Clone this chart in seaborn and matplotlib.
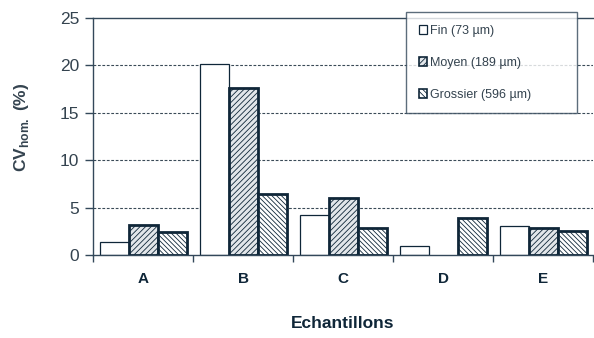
import pandas as pd
import matplotlib.pyplot as plt
import seaborn as sns
from matplotlib.patches import Patch
from matplotlib.ticker import FixedLocator

# data
echantillons = ['A', 'B', 'C', 'D', 'E']
fin = [1.4, 20.2, 4.2, 0.95, 3.1]
moyen = [3.2, 17.6, 6.0, 0.0, 2.8]
grossier = [2.4, 6.4, 2.8, 3.9, 2.5]
series = ['Fin (73 µm)', 'Moyen (189 µm)', 'Grossier (596 µm)']

rows = []
for s, vals in zip(series, [fin, moyen, grossier]):
    for e, v in zip(echantillons, vals):
        rows.append((e, s, v))
df = pd.DataFrame(rows, columns=['ech', 'serie', 'cv'])

sns.set_theme(style="white")
plt.rcParams['font.family'] = ['Liberation Sans', 'DejaVu Sans']
plt.rcParams['hatch.linewidth'] = 0.6
edge = '#0f2638'
txt = '#34434f'
plt.rcParams['hatch.color'] = edge

fig = plt.figure(figsize=(5.94, 3.38), dpi=100)
ax = fig.add_axes([0.1566, 0.2456, 0.8418, 0.7011])

sns.barplot(data=df, x='ech', y='cv', hue='serie', hue_order=series,
            order=echantillons, width=0.87, gap=0, ax=ax, legend=False,
            palette=['white', '#e2e6ea', 'white'], saturation=1,
            edgecolor=edge, errorbar=None)

styles = [('', 0.9), ('//////', 2.0), ('\\\\\\\\\\\\\\', 2.0)]
n = len(echantillons)
for i, p in enumerate(ax.patches):
    h, lw = styles[i // n]
    p.set_hatch(h)
    p.set_linewidth(lw if p.get_height() > 0 else 0)
    p.set_edgecolor(edge)

ax.set_xlim(-0.5, 4.5)
ax.set_ylim(0, 25)
ax.set_yticks([0, 5, 10, 15, 20, 25])
for y in [5, 10, 15, 20]:
    ax.axhline(y, color='#3a4a57', lw=0.8, ls=(0, (2.5, 1.5)), zorder=0)

for sp in ['left', 'bottom', 'top']:
    ax.spines[sp].set_color('#33485a')
    ax.spines[sp].set_linewidth(1.0)
ax.spines['right'].set_visible(False)

ax.tick_params(axis='y', left=True, length=6, width=1, color='#33485a',
               labelsize=12.5, labelcolor=txt, pad=4)
ax.tick_params(axis='x', which='major', length=0, labelsize=11,
               labelcolor=edge, pad=12)
for t in ax.get_xticklabels():
    t.set_fontweight('bold')
ax.xaxis.set_minor_locator(FixedLocator([-0.5, 0.5, 1.5, 2.5, 3.5, 4.5]))
ax.tick_params(axis='x', which='minor', bottom=True, length=5, width=1,
               color='#33485a', direction='out')

ax.set_xlabel('Echantillons', fontsize=12.5, fontweight='bold', color=edge,
              labelpad=22)
ax.set_ylabel(r'CV$_{\mathregular{hom.}}$ (%)', fontsize=12.5, fontweight='bold',
              color=txt)
ax.yaxis.set_label_coords(-0.125, 0.54)

handles = [Patch(facecolor='white', edgecolor=edge, lw=0.9),
           Patch(facecolor='#e2e6ea', edgecolor=edge, hatch='//////', lw=1.2),
           Patch(facecolor='white', edgecolor=edge, hatch='\\\\\\\\\\\\', lw=1.2)]
leg = ax.legend(handles, series, loc='upper left', mode='expand',
                bbox_to_anchor=(0.626, 1.025, 0.342, 0.0),
                fontsize=9, frameon=True, fancybox=False, handlelength=0.7,
                handleheight=0.7, handletextpad=0.25, labelspacing=1.6,
                borderpad=1.0, borderaxespad=0)
leg.get_frame().set_edgecolor('#33485a')
leg.get_frame().set_linewidth(1.0)
for t in leg.get_texts():
    t.set_color(txt)

fig.savefig('out.png', dpi=100)
